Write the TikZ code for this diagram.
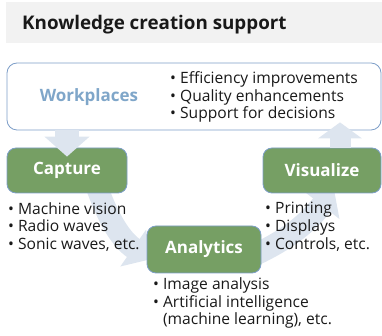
\documentclass[tikz,border=0pt]{standalone}
\usepackage{fontspec}
\setmainfont{Open Sans}
\usetikzlibrary{arrows.meta,backgrounds,calc}
\definecolor{LeafGreen}{RGB}{118,159,100}
\definecolor{EdgeBlue}{RGB}{125,158,200}
\definecolor{MistBlue}{RGB}{221,229,239}
\definecolor{PlaceBlue}{RGB}{127,166,201}
\definecolor{BandGrey}{RGB}{242,242,242}
\definecolor{InkGrey}{RGB}{25,25,25}

\begin{document}
\begin{tikzpicture}[x=1pt, y=1pt,
    stagebox/.style={rectangle, rounded corners=9pt, fill=LeafGreen, draw=EdgeBlue, line width=0.8pt, text=white, font=\fontsize{17}{20}\selectfont\bfseries, minimum height=45pt},
    bulletlist/.style={align=left, inner sep=0pt, anchor=west, text=InkGrey, font=\fontsize{15.6}{17.8}\selectfont},
    flowband/.style={draw=MistBlue, line width=22pt, -{Triangle[width=44pt,length=20pt]}}]
    \useasboundingbox (0,0) rectangle (382,336);

    % Title strip
    \node[fill=BandGrey, minimum width=376pt, minimum height=41pt, inner sep=0pt] (band) at (194,313.5) {};
    \node[anchor=west, inner sep=0pt, text=InkGrey, font=\fontsize{18.8}{22}\selectfont\bfseries] (title) at (22,311) {Knowledge creation support};

    % Workplaces panel
    \node[rectangle, rounded corners=10pt, draw=EdgeBlue, fill=white, line width=0.8pt, minimum width=374pt, minimum height=67pt] (work) at (194,239.5) {};
    \node[text=PlaceBlue, font=\fontsize{17}{20}\selectfont\bfseries] (worklabel) at (89,239) {Workplaces};
    \node[bulletlist] (workpoints) at (170,239) {• Efficiency improvements\\• Quality enhancements\\• Support for decisions};

    % Stages of the cycle
    \node[stagebox, minimum width=120pt] (capture) at (67,165.5) {Capture};
    \node[stagebox, minimum width=118pt] (visualize) at (322,165.5) {Visualize};
    \node[stagebox, minimum width=114pt, minimum height=47pt] (analytics) at (204,86.5) {Analytics};

    % Curved bands behind the stages
    \begin{scope}[on background layer]
        \draw[flowband] ($(capture.south)+(30,6)$) to[out=-70, in=145] ($(analytics.west)+(3,-10)$);
        \draw[flowband] ($(analytics.east)+(-8,-6)$) to[out=25, in=232] ($(visualize.south)+(12,4)$);
    \end{scope}

    % Straight bands
    \draw[flowband, line width=24pt] (work.south -| capture) -- ($(capture.north)+(0,-9)$);
    \draw[flowband, line width=21pt, -{Triangle[width=43pt,length=16pt]}] ($(visualize.north)+(18,0)$) -- ($(work.south -| visualize.north)+(18,8)$);

    % Bullet lists
    \node[bulletlist] (capturepoints) at (8,109) {• Machine vision\\• Radio waves\\• Sonic waves, etc.};
    \node[bulletlist] (visualizepoints) at (265,109) {• Printing\\• Displays\\• Controls, etc.};
    \node[bulletlist] (analyticspoints) at (153,33) {• Image analysis\\• Artificial intelligence\\\phantom{• }(machine learning), etc.};
\end{tikzpicture}
\end{document}
